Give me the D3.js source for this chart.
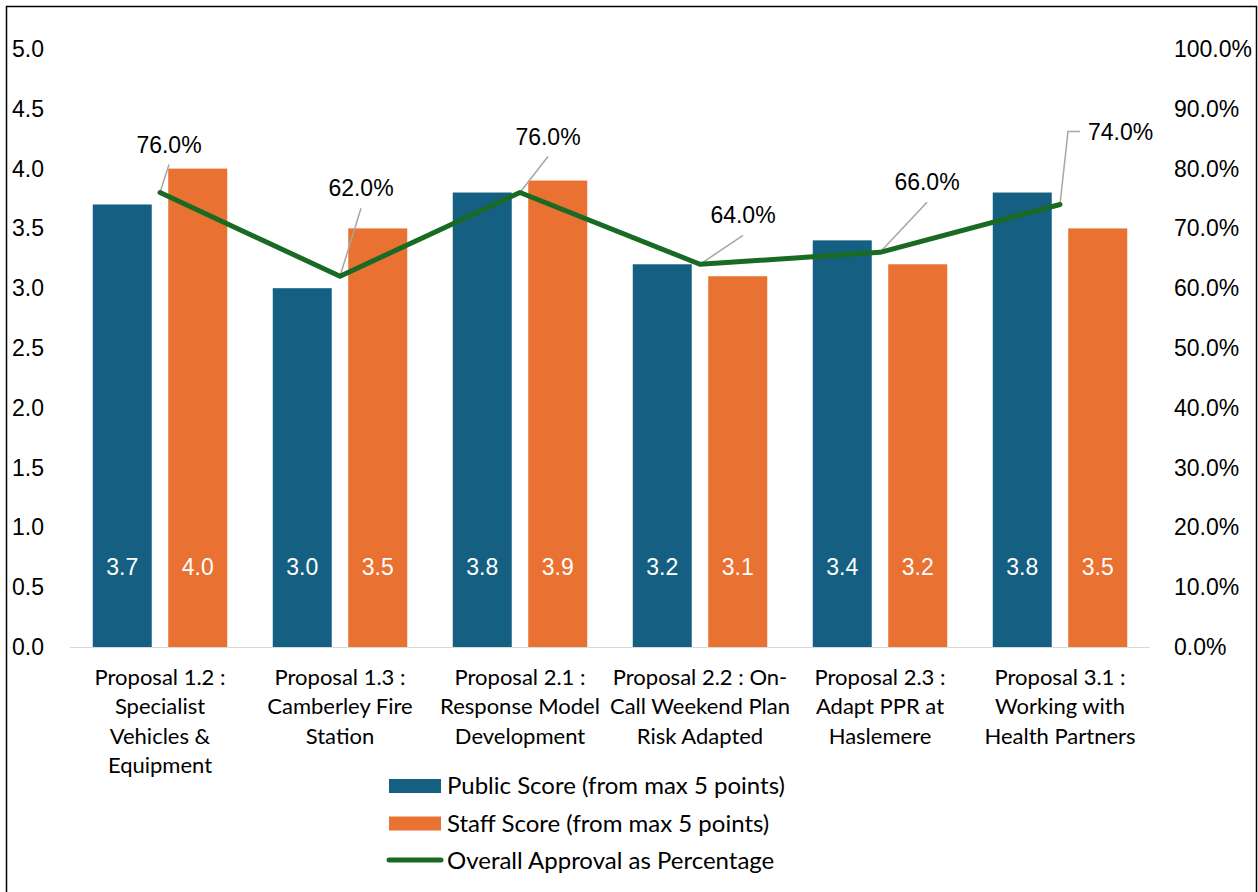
<!DOCTYPE html>
<html>
<meta charset="utf-8">
<style>
  body { margin: 0; background: #fff; }
  text { font-family: "Liberation Sans", Arial, sans-serif; }
  .cat { font-family: "Lato", "Noto Sans", sans-serif; }
</style>
<script src="https://d3js.org/d3.v7.min.js"></script>
<body>
<script>
var width = 1258, height = 892;

var categories = [
  ["Proposal 1.2 :", "Specialist", "Vehicles &", "Equipment"],
  ["Proposal 1.3 :", "Camberley Fire", "Station"],
  ["Proposal 2.1 :", "Response Model", "Development"],
  ["Proposal 2.2 : On-", "Call Weekend Plan", "Risk Adapted"],
  ["Proposal 2.3 :", "Adapt PPR at", "Haslemere"],
  ["Proposal 3.1 :", "Working with", "Health Partners"]
];
var publicScore = [3.7, 3.0, 3.8, 3.2, 3.4, 3.8];
var staffScore = [4.0, 3.5, 3.9, 3.1, 3.2, 3.5];
var approval = [0.76, 0.62, 0.76, 0.64, 0.66, 0.74];
var leftTicks = [0, 0.5, 1, 1.5, 2, 2.5, 3, 3.5, 4, 4.5, 5];
var rightTicks = [0, 0.1, 0.2, 0.3, 0.4, 0.5, 0.6, 0.7, 0.8, 0.9, 1];
var seriesNames = ["Public Score (from max 5 points)", "Staff Score (from max 5 points)", "Overall Approval as Percentage"];

// label offsets (dx, dy) relative to point, for leader lines
var labelOffsets = [[9, -40], [21, -80], [28, -48], [43, -41], [47, -62], [28, -65]];

var colors = { pub: "#156082", staff: "#E97132", line: "#196B24" };

var svg = d3.select("body").append("svg")
  .attr("width", width).attr("height", height);

svg.append("rect")
  .attr("x", 6.5).attr("y", 6.5)
  .attr("width", 1250).attr("height", 900)
  .attr("fill", "none").attr("stroke", "#000").attr("stroke-width", 1.5);

var x = d3.scaleBand().domain(d3.range(categories.length)).range([70, 1150]).paddingInner(0).paddingOuter(0);
var y = d3.scaleLinear().domain([0, 5]).range([647, 49]);
var y2 = d3.scaleLinear().domain([0, 1]).range([647, 49]);
var barW = 59, gap = 16.5;

// left axis labels
svg.append("g").selectAll("text").data(leftTicks).join("text")
  .attr("x", 12).attr("y", d => y(d) + 8)
  .attr("font-size", 23).attr("fill", "#000")
  .text(d => d.toFixed(1));

// right axis labels
svg.append("g").selectAll("text").data(rightTicks).join("text")
  .attr("x", 1174).attr("y", d => y2(d) + 8)
  .attr("font-size", 23).attr("fill", "#000")
  .text(d => (d * 100).toFixed(1) + "%");

var cx = i => x(i) + x.bandwidth() / 2;

var g = svg.append("g");
g.selectAll(".pub").data(publicScore).join("rect")
  .attr("x", (d, i) => cx(i) - gap / 2 - barW)
  .attr("y", d => y(d)).attr("width", barW).attr("height", d => y(0) - y(d))
  .attr("fill", colors.pub);
g.selectAll(".staff").data(staffScore).join("rect")
  .attr("x", (d, i) => cx(i) + gap / 2)
  .attr("y", d => y(d)).attr("width", barW).attr("height", d => y(0) - y(d))
  .attr("fill", colors.staff);

// bar value labels
g.selectAll(".pl").data(publicScore).join("text")
  .attr("x", (d, i) => cx(i) - gap / 2 - barW / 2).attr("y", 575)
  .attr("text-anchor", "middle").attr("font-size", 23).attr("fill", "#fff")
  .text(d => d.toFixed(1));
g.selectAll(".sl").data(staffScore).join("text")
  .attr("x", (d, i) => cx(i) + gap / 2 + barW / 2).attr("y", 575)
  .attr("text-anchor", "middle").attr("font-size", 23).attr("fill", "#fff")
  .text(d => d.toFixed(1));

// baseline
svg.append("line").attr("x1", 70).attr("x2", 1150).attr("y1", 647.5).attr("y2", 647.5)
  .attr("stroke", "#d9d9d9").attr("stroke-width", 1);

// category labels
categories.forEach(function(lines, i) {
  var t = svg.append("text").attr("class", "cat")
    .attr("text-anchor", "middle").attr("font-size", 22).attr("fill", "#000");
  lines.forEach(function(l, j) {
    t.append("tspan").attr("x", cx(i)).attr("y", 685 + j * 29.3).text(l);
  });
});

// leader lines
approval.forEach(function(d, i) {
  var px = cx(i), py = y2(d), o = labelOffsets[i];
  if (i === 5) {
    svg.append("polyline")
      .attr("points", [[px, py], [px + 8, py - 73], [px + 20, py - 73]].map(p => p.join(",")).join(" "))
      .attr("fill", "none").attr("stroke", "#a6a6a6").attr("stroke-width", 1.5);
  } else {
    svg.append("line").attr("x1", px).attr("y1", py).attr("x2", px + o[0]).attr("y2", py + o[1] + 12)
      .attr("stroke", "#a6a6a6").attr("stroke-width", 1.5);
  }
});

// line
svg.append("path").datum(approval)
  .attr("d", d3.line().x((d, i) => cx(i)).y(d => y2(d)))
  .attr("fill", "none").attr("stroke", colors.line).attr("stroke-width", 5)
  .attr("stroke-linejoin", "round").attr("stroke-linecap", "round");

// line labels
svg.selectAll(".ll").data(approval).join("text")
  .attr("x", (d, i) => i === 5 ? cx(i) + 28 : cx(i) + labelOffsets[i][0])
  .attr("y", (d, i) => i === 5 ? y2(d) - 64 : y2(d) + labelOffsets[i][1])
  .attr("text-anchor", (d, i) => i === 5 ? "start" : "middle")
  .attr("font-size", 23).attr("fill", "#000")
  .text(d => (d * 100).toFixed(1) + "%");

// legend
var leg = svg.append("g").attr("class", "cat");
[colors.pub, colors.staff].forEach(function(c, i) {
  leg.append("rect").attr("x", 389).attr("y", 779 + i * 37.5).attr("width", 52).attr("height", 14).attr("fill", c);
});
leg.append("line").attr("x1", 389).attr("x2", 441).attr("y1", 860).attr("y2", 860)
  .attr("stroke", colors.line).attr("stroke-width", 5).attr("stroke-linecap", "round");
seriesNames.forEach(function(n, i) {
  leg.append("text").attr("class", "cat").attr("x", 447).attr("y", 794 + i * 37.5)
    .attr("font-size", 24).attr("fill", "#000").text(n);
});
</script>
</body>
</html>
